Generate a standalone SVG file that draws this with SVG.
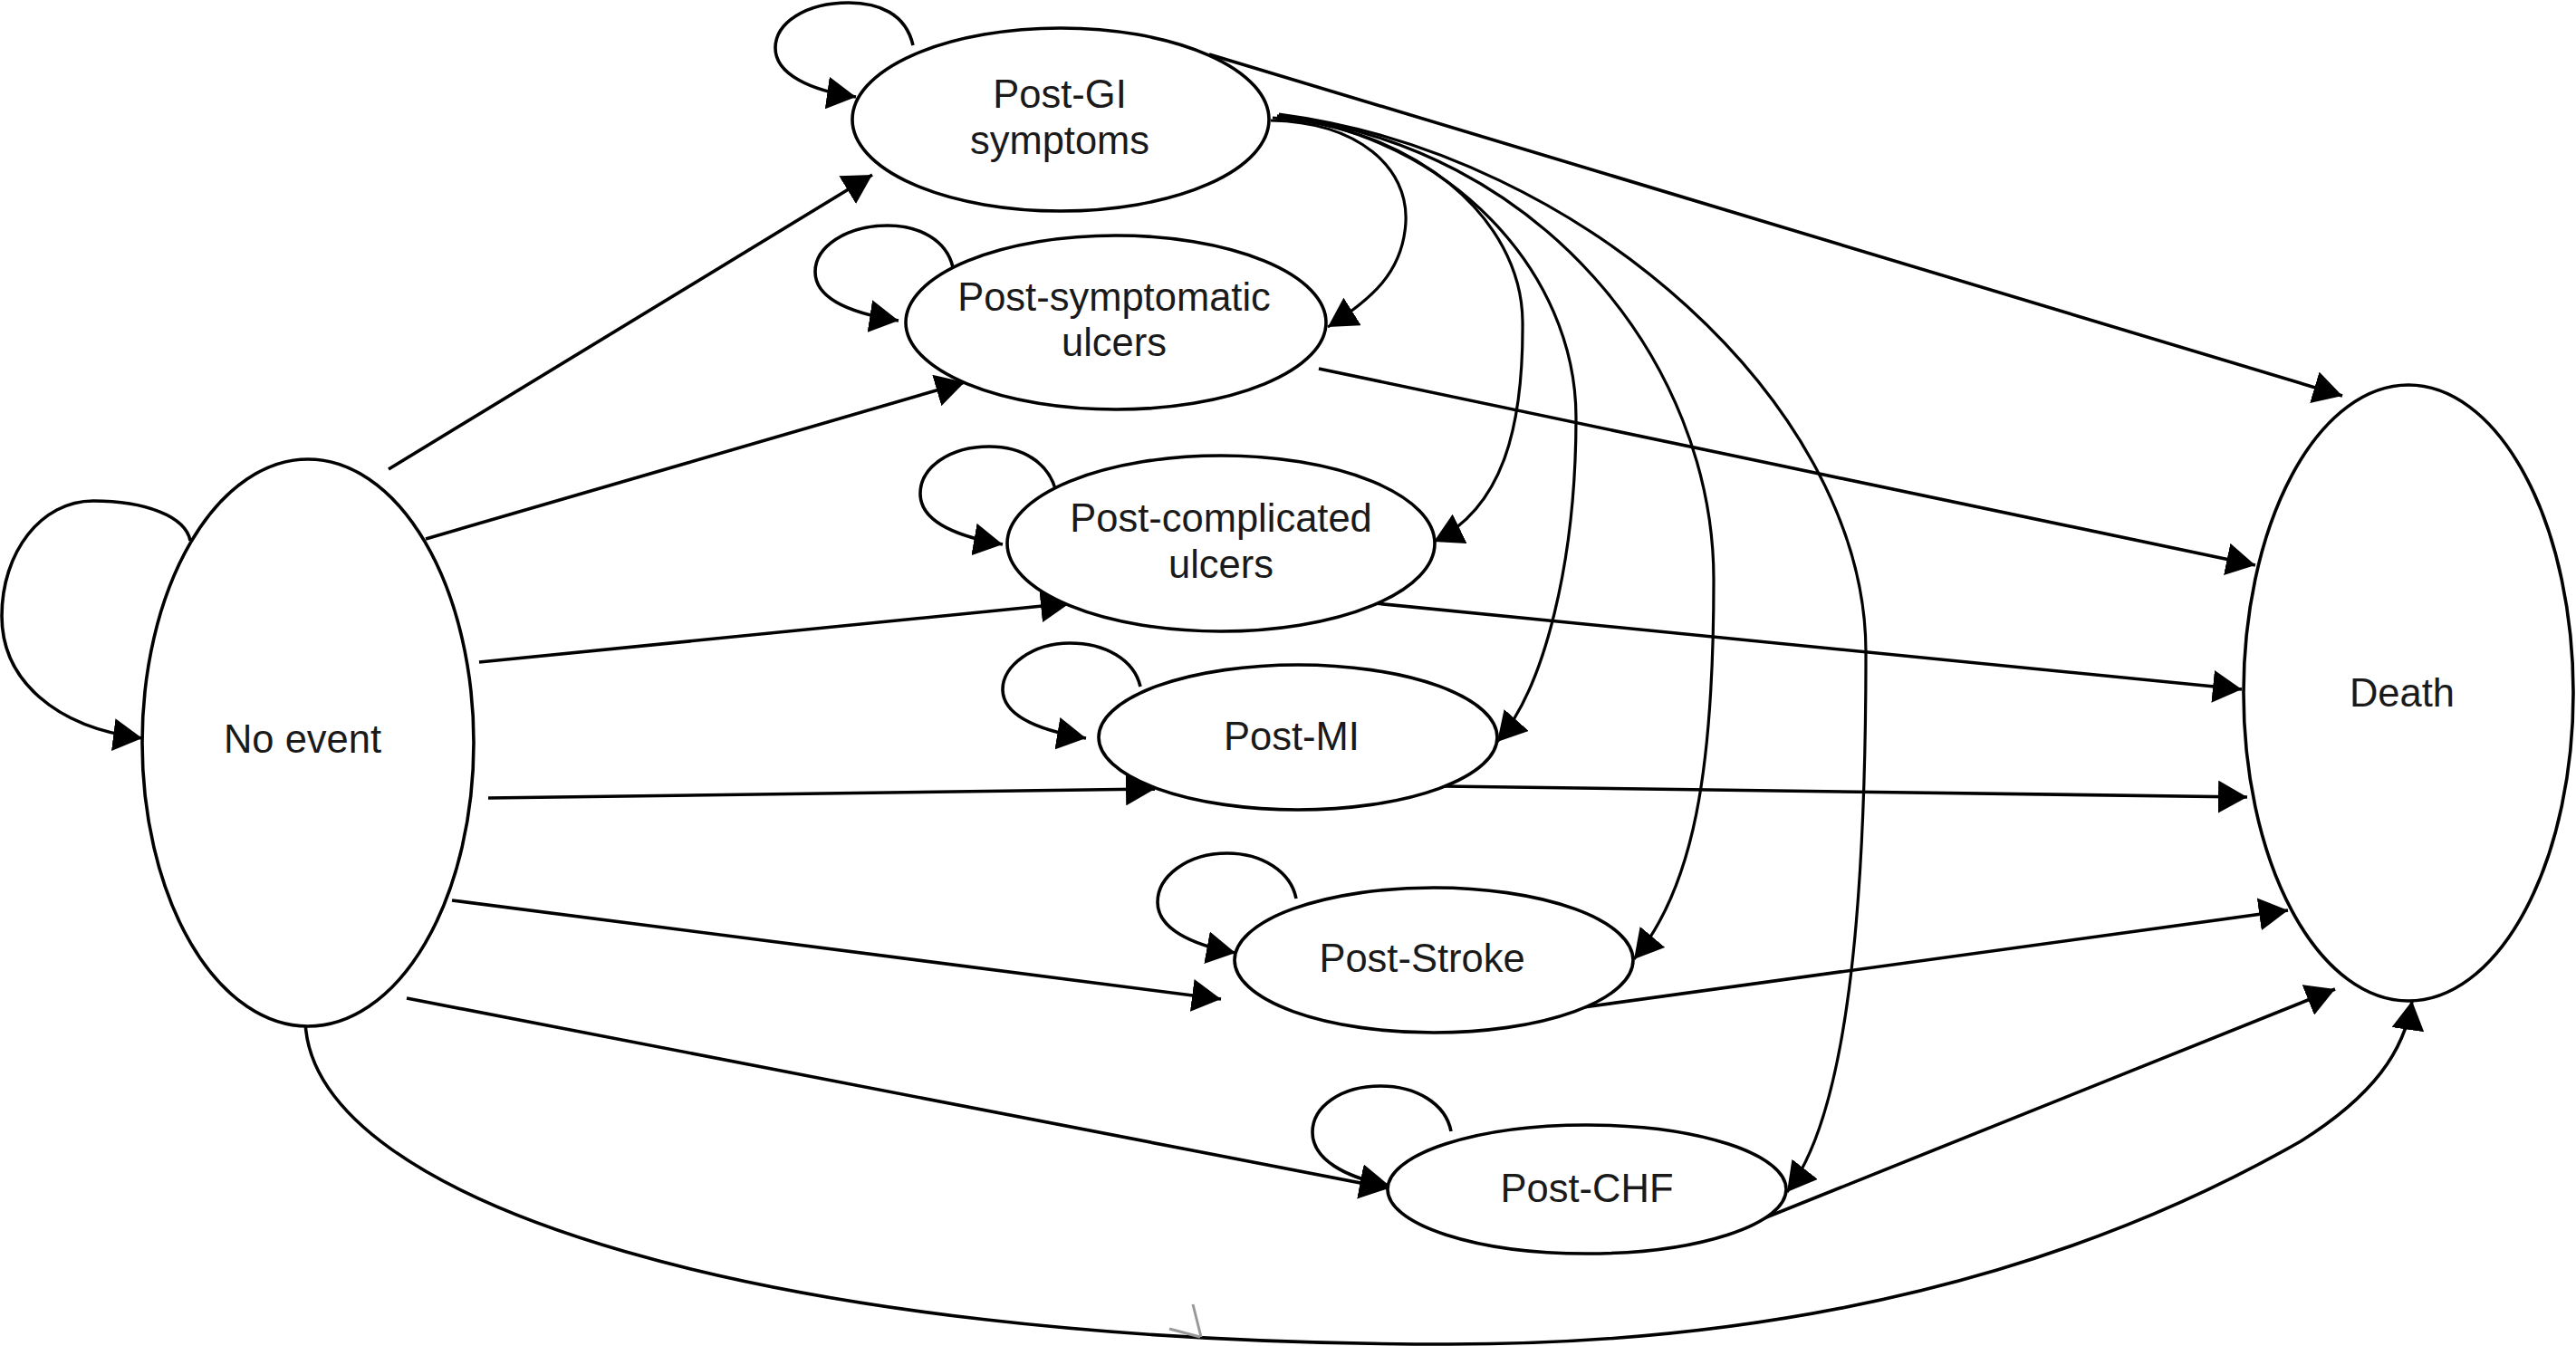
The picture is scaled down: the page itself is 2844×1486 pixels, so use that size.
<svg xmlns="http://www.w3.org/2000/svg" width="2844" height="1486" viewBox="0 0 2844 1486">
<style>
.node ellipse{fill:#fff;stroke:#000;stroke-width:3.6}
.node text{font-family:"Liberation Sans",Arial,sans-serif;font-size:43.5px;fill:#1a1a1a;text-anchor:middle}
.edge{fill:none;stroke:#000;stroke-width:3.6;marker-end:url(#arr)}
.curve{fill:none;stroke:#000;stroke-width:3.2;marker-end:url(#arr)}
.mark{fill:none;stroke:#999;stroke-width:3}
</style>
<defs>
<marker id="arr" markerUnits="userSpaceOnUse" markerWidth="32" markerHeight="36" viewBox="0 0 32 36" refX="32" refY="18" orient="auto"><path d="M0,0 L32,18 L0,36 z" fill="#000"/></marker>
</defs>
<rect width="2844" height="1486" fill="#fff"/>
<g id="connectors">
<path class="edge" d="M210,597 C205,570 160,553 103,553 C45,553 2,610 2,680 C2,750 60,803 157,815"/>
<path class="edge" d="M429,518 L963,193"/>
<path class="edge" d="M470,595 L1065,422"/>
<path class="edge" d="M529,731 L1181,666"/>
<path class="edge" d="M539,881 L1275,871"/>
<path class="edge" d="M499,994 L1348,1103"/>
<path class="edge" d="M449,1102 L1533,1312"/>
<path class="edge" d="M337,1128 C345,1330 850,1484 1600,1484 C2100,1484 2400,1340 2540,1260 C2620,1210 2655,1160 2663,1105"/>
<path class="edge" d="M1335,60 L2586,437"/>
<path class="edge" d="M1456,407 L2490,624"/>
<path class="edge" d="M1518,666 L2475,761"/>
<path class="edge" d="M1594,868 L2481,880"/>
<path class="edge" d="M1741,1113 L2526,1005"/>
<path class="edge" d="M1935,1350 L2578,1092"/>
<path class="curve" d="M1403,133 C1500,135 1555,185 1552,245 C1549,300 1515,330 1466,361"/>
<path class="curve" d="M1405,130 C1560,140 1680,240 1681,355 C1682,470 1660,560 1583,598"/>
<path class="curve" d="M1410,128 C1600,150 1740,300 1740,461 C1740,620 1705,760 1653,819"/>
<path class="curve" d="M1410,128 C1700,160 1892,400 1892,640 C1892,850 1870,980 1804,1059"/>
<path class="curve" d="M1412,126 C1750,170 2060,450 2060,720 C2060,1000 2040,1230 1973,1316"/>
<path class="edge" d="M1008,50 C1000,15 970,3 937,3 C890,3 856,25 856,53 C856,82 895,100 945,107"/>
<path class="edge" d="M1052,295 C1045,265 1015,249 980,249 C935,249 900,272 900,300 C900,330 940,346 992,354"/>
<path class="edge" d="M1166,543 C1158,510 1128,493 1092,493 C1050,493 1016,515 1016,545 C1016,575 1055,592 1107,601"/>
<path class="edge" d="M1259,758 C1252,728 1220,710 1181,710 C1140,710 1107,735 1107,761 C1107,790 1145,806 1199,815"/>
<path class="edge" d="M1431,992 C1425,962 1393,942 1355,942 C1310,942 1278,968 1278,996 C1278,1025 1315,1043 1364,1052"/>
<path class="edge" d="M1602,1249 C1596,1218 1563,1199 1524,1199 C1480,1199 1449,1222 1449,1250 C1449,1280 1485,1300 1534,1309"/>
<path class="mark" d="M1317,1440 L1326,1476 M1291,1467 L1325,1476"/>
</g>
<g id="no-event" class="node"><ellipse cx="340" cy="820" rx="183" ry="313" fill="none"/><text x="334" y="831">No event</text></g>
<g id="post-gi" class="node"><ellipse cx="1171" cy="132" rx="230" ry="101" fill="none"/><text x="1170" y="119">Post-GI</text><text x="1170" y="170">symptoms</text></g>
<g id="post-symptomatic" class="node"><ellipse cx="1232" cy="356" rx="232" ry="96" fill="none"/><text x="1230" y="343">Post-symptomatic</text><text x="1230" y="393">ulcers</text></g>
<g id="post-complicated" class="node"><ellipse cx="1348" cy="600" rx="236" ry="97" fill="none"/><text x="1348" y="587">Post-complicated</text><text x="1348" y="638">ulcers</text></g>
<g id="post-mi" class="node"><ellipse cx="1433" cy="814" rx="220" ry="80" fill="none"/><text x="1426" y="828">Post-MI</text></g>
<g id="post-stroke" class="node"><ellipse cx="1583" cy="1060" rx="220" ry="80" fill="none"/><text x="1570" y="1073">Post-Stroke</text></g>
<g id="post-chf" class="node"><ellipse cx="1752" cy="1313" rx="220" ry="71" fill="none"/><text x="1752" y="1327">Post-CHF</text></g>
<g id="death" class="node"><ellipse cx="2659" cy="765" rx="182" ry="340" fill="none"/><text x="2652" y="780">Death</text></g>
</svg>
